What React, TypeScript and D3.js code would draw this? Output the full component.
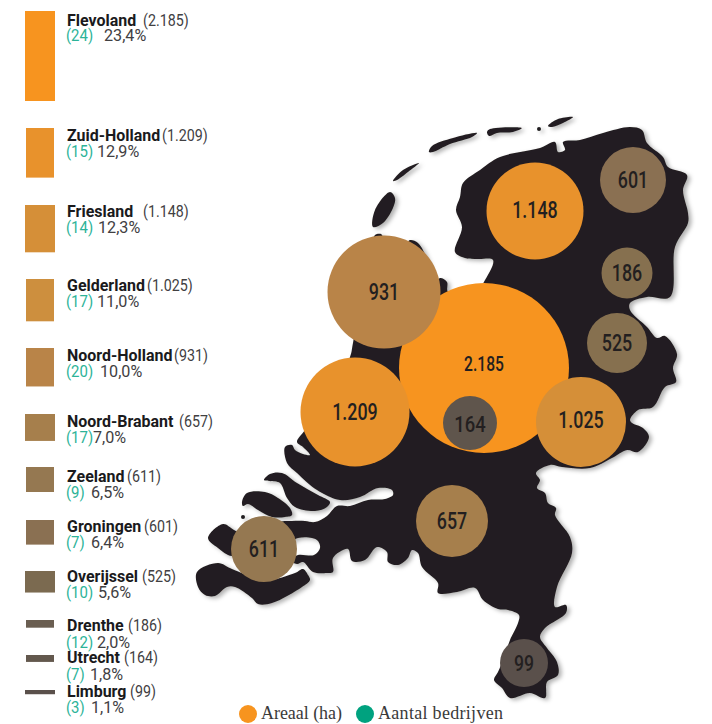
import React, { useEffect, useRef } from "react";
import * as d3 from "d3";

// values as printed in the list on the left
const provinces = ["Flevoland", "Zuid-Holland", "Friesland", "Gelderland", "Noord-Holland", "Noord-Brabant", "Zeeland", "Groningen", "Overijssel", "Drenthe", "Utrecht", "Limburg"];
const areaLabels = ["2.185", "1.209", "1.148", "1.025", "931", "657", "611", "601", "525", "186", "164", "99"];
const companies = [24, 15, 14, 17, 20, 17, 9, 7, 10, 12, 7, 3];
const shares = [23.4, 12.9, 12.3, 11.0, 10.0, 7.0, 6.5, 6.4, 5.6, 2.0, 1.8, 1.1];
const colors = ["#f7941f", "#e8922c", "#d58f38", "#cd8f3e", "#b98448", "#a67f4c", "#957851", "#8a7052", "#7b6a50", "#6a5e51", "#63584d", "#5a504b"];
const bubbleColors = ["#f7941f", "#e8922c", "#e8922c", "#d58f38", "#b98448", "#a67f4c", "#957851", "#8a7052", "#86704f", "#86704f", "#5f554c", "#5a504b"];

// list layout
const barTop = [11, 128, 205, 279, 348, 414, 467, 520, 571, 620, 655, 690];
const barLeft = [25, 26, 25, 26, 26, 25, 26, 26, 25, 26, 26, 25];
const barWidth = [30, 28, 30, 28, 28, 30, 28, 28, 30, 28, 28, 30];
const nameBase = [26, 141, 217, 291, 361, 427, 482, 532, 582, 631, 663, 697];
const subBase = [41, 157, 233, 307, 377, 443, 498, 548, 598, 648, 680, 713];
const valueX = [143, 162, 143, 147, 174, 179, 127, 144, 142, 128, 124, 130];
const pctX = [104, 97, 98, 97, 100, 93, 91, 91, 98, 97, 90, 91];

// bubbles on the map, same order as the list
const bubbleX = [484, 355, 535, 581, 384, 452, 264, 633, 617, 627, 470, 524];
const bubbleY = [368, 412, 211, 422, 292, 521, 549, 180, 343, 273, 423, 663];
const bubbleR = [85, 54.5, 48.5, 45, 56.5, 36, 33, 33, 30, 25.5, 27, 24];
const labelY = [364, 412, 210, 420, 292, 521, 549, 180, 343, 273, 424, 663];
const bubbleFont = [19.5, 23.5, 23.5, 23.5, 23.5, 23.5, 23.5, 23.5, 23.5, 23.5, 22.5, 22];
const bubbleSqueeze = [0.8, 0.76, 0.76, 0.76, 0.76, 0.76, 0.76, 0.76, 0.76, 0.76, 0.82, 0.8];

// map outline, traced by hand
const mainland: [number, number][] = [
  [353, 343], [350, 357], [330, 395], [305, 430], [297, 442], [303, 447], [310, 455], [303, 454], [295, 450], [292, 445], [285, 447], [287, 463], [297, 473], [317, 490], [340, 500], [360, 497], [378, 488], [392, 490], [393, 495], [385, 499], [368, 500], [350, 506], [337, 506], [327, 516], [315, 522], [305, 521], [292, 521], [280, 522], [272, 530], [285, 545], [298, 538], [312, 538], [318, 541], [320, 548], [314, 555], [298, 555], [290, 560], [297, 564], [303, 562], [313, 572], [327, 573], [333, 572], [333, 558], [348, 549], [352, 561], [365, 560], [377, 547], [387, 552], [388, 562], [398, 565], [408, 558], [412, 550], [418, 553], [422, 567], [438, 583], [438, 593], [457, 592], [475, 588], [483, 600], [498, 609], [508, 610], [519, 615], [518, 623], [510, 640], [505, 655], [498, 672], [494, 680], [502, 688], [510, 698], [530, 693], [545, 698], [547, 682], [558, 675], [557, 662], [547, 648], [540, 637], [545, 628], [566, 613], [566, 605], [555, 607], [557, 587], [572, 553], [570, 537], [555, 515], [556, 508], [548, 503], [545, 493], [537, 488], [540, 480], [536, 473], [550, 465], [562, 467], [590, 468], [612, 458], [627, 450], [638, 452], [649, 437], [643, 428], [632, 423], [630, 420], [638, 410], [653, 407], [665, 387], [676, 382], [673, 368], [677, 354], [665, 336], [657, 338], [647, 327], [630, 310], [630, 303], [647, 297], [670, 297], [675, 247], [688, 223], [688, 213], [683, 190], [687, 175], [668, 167], [663, 157], [647, 143], [642, 130], [630, 127], [603, 133], [580, 140], [563, 142], [565, 150], [558, 152], [555, 142], [540, 148], [500, 157], [480, 170], [463, 183], [460, 197], [456, 210], [462, 227], [455, 252], [465, 258], [478, 259], [493, 260], [485, 280], [470, 300], [448, 292], [447, 282], [440, 278], [432, 285], [428, 262], [418, 243], [410, 240], [405, 245], [385, 240], [381, 234], [375, 235], [372, 245],
];
const voorne: [number, number][] = [[264, 480], [270, 474], [282, 473], [297, 483], [318, 495], [330, 502], [327, 507], [315, 511], [295, 507], [287, 498], [280, 483], [270, 481]];
const goeree: [number, number][] = [[242, 502], [247, 493], [265, 492], [278, 498], [290, 508], [292, 515], [285, 517], [272, 517], [258, 510], [248, 504], [243, 506]];
const walcheren: [number, number][] = [[208, 538], [223, 524], [234, 530], [260, 545], [232, 556], [218, 548]];
const zeeuwsVlaanderen: [number, number][] = [[197, 572], [218, 563], [232, 569], [265, 580], [295, 573], [303, 569], [308, 575], [310, 580], [302, 587], [272, 603], [258, 604], [252, 598], [235, 587], [227, 587], [215, 596], [205, 595], [198, 587]];
const texel: [number, number][] = [[373, 227], [375, 210], [390, 192], [395, 198], [393, 208], [383, 223]];
const vlieland: [number, number][] = [[393, 181], [403, 170], [419, 163], [408, 172], [397, 180]];
const terschelling: [number, number][] = [[429, 152], [432, 146], [453, 138], [477, 133], [472, 137], [450, 144], [433, 152]];
const ameland: [number, number][] = [[487, 132], [490, 129], [522, 128], [513, 132], [497, 133], [489, 136]];
const schiermonnikoog: [number, number][] = [[548, 126], [558, 119], [573, 117], [563, 123], [552, 127]];
const landShapes = [mainland, voorne, goeree, walcheren, zeeuwsVlaanderen, texel, vlieland, terschelling, ameland, schiermonnikoog];

const legendLabels = ["Areaal (ha)", "Aantal bedrijven"];
const legendColors = ["#f7941f", "#00a27f"];
const legendX = [248, 365];
const legendWidth = [81, 125];

const sans = "Roboto, sans-serif";

const App = () => {
  const ref = useRef<SVGSVGElement>(null);

  useEffect(() => {
    const svg = d3.select(ref.current);
    svg.selectAll("*").remove();

    const barHeight = d3.scaleLinear().domain([0, 23.4]).range([0, 90]);
    const outline = d3.line().curve(d3.curveCatmullRomClosed.alpha(0.5));

    const defs = svg.append("defs");
    defs.append("filter")
      .attr("id", "landShadow")
      .attr("x", "-10%").attr("y", "-10%").attr("width", "120%").attr("height", "120%")
      .append("feDropShadow")
      .attr("dx", 3).attr("dy", 2).attr("stdDeviation", 2)
      .attr("flood-color", "#000").attr("flood-opacity", 0.3);

    // left list
    const rows = svg.append("g").selectAll("g").data(provinces).join("g");

    rows.append("rect")
      .attr("x", (_, i) => barLeft[i])
      .attr("y", (_, i) => barTop[i])
      .attr("width", (_, i) => barWidth[i])
      .attr("height", (_, i) => barHeight(shares[i]))
      .attr("fill", (_, i) => colors[i]);

    const put = (x: (i: number) => number, y: (i: number) => number, txt: (i: number) => string, color: string, weight: number, squeeze: number) =>
      rows.append("text")
        .attr("transform", (_, i) => `translate(${x(i)},${y(i)}) scale(${squeeze},1)`)
        .attr("font-family", sans)
        .attr("font-size", 17)
        .attr("font-weight", weight)
        .attr("fill", color)
        .text((_, i) => txt(i));

    put(() => 67, (i) => nameBase[i], (i) => provinces[i], "#1a1a1c", 700, 0.94);
    put((i) => valueX[i], (i) => nameBase[i], (i) => `(${areaLabels[i]})`, "#414042", 400, 0.84);
    put(() => 66, (i) => subBase[i], (i) => `(${companies[i]})`, "#2cb398", 400, 0.88);
    put((i) => pctX[i], (i) => subBase[i], (i) => `${d3.format(".1f")(shares[i]).replace(".", ",")}%`, "#414042", 400, 0.95);

    // map
    svg.append("g")
      .attr("filter", "url(#landShadow)")
      .selectAll("path")
      .data(landShapes)
      .join("path")
      .attr("d", (d) => outline(d))
      .attr("fill", "#231f20");
    svg.append("g").attr("filter", "url(#landShadow)")
      .selectAll("circle")
      .data([[539, 129, 2], [243, 517, 2]])
      .join("circle")
      .attr("cx", (d) => d[0]).attr("cy", (d) => d[1]).attr("r", (d) => d[2])
      .attr("fill", "#231f20");

    // bubbles
    const bubbles = svg.append("g").selectAll("g").data(d3.range(provinces.length)).join("g");
    bubbles.append("circle")
      .attr("cx", (i) => bubbleX[i])
      .attr("cy", (i) => bubbleY[i])
      .attr("r", (i) => bubbleR[i])
      .attr("fill", (i) => bubbleColors[i]);
    bubbles.append("text")
      .attr("transform", (i) => `translate(${bubbleX[i]},${labelY[i]}) scale(${bubbleSqueeze[i]},1)`)
      .attr("text-anchor", "middle")
      .attr("dy", "0.36em")
      .attr("font-family", sans)
      .attr("font-weight", 500)
      .attr("font-size", (i) => bubbleFont[i])
      .attr("fill", "#231f20")
      .text((i) => areaLabels[i]);

    // bottom legend
    const legend = svg.append("g").selectAll("g").data(legendLabels).join("g");
    legend.append("circle")
      .attr("cx", (_, i) => legendX[i])
      .attr("cy", 714)
      .attr("r", 9)
      .attr("fill", (_, i) => legendColors[i]);
    legend.append("text")
      .attr("x", (_, i) => legendX[i] + 13)
      .attr("y", 719)
      .attr("font-family", "'Liberation Serif', serif")
      .attr("font-size", 18)
      .attr("textLength", (_, i) => legendWidth[i])
      .attr("fill", "#3a3a3a")
      .text((d) => d);
  }, []);

  return <svg ref={ref} width={712} height={724} style={{ position: "absolute", left: 0, top: 0, background: "#fff" }} />;
};

export default App;
